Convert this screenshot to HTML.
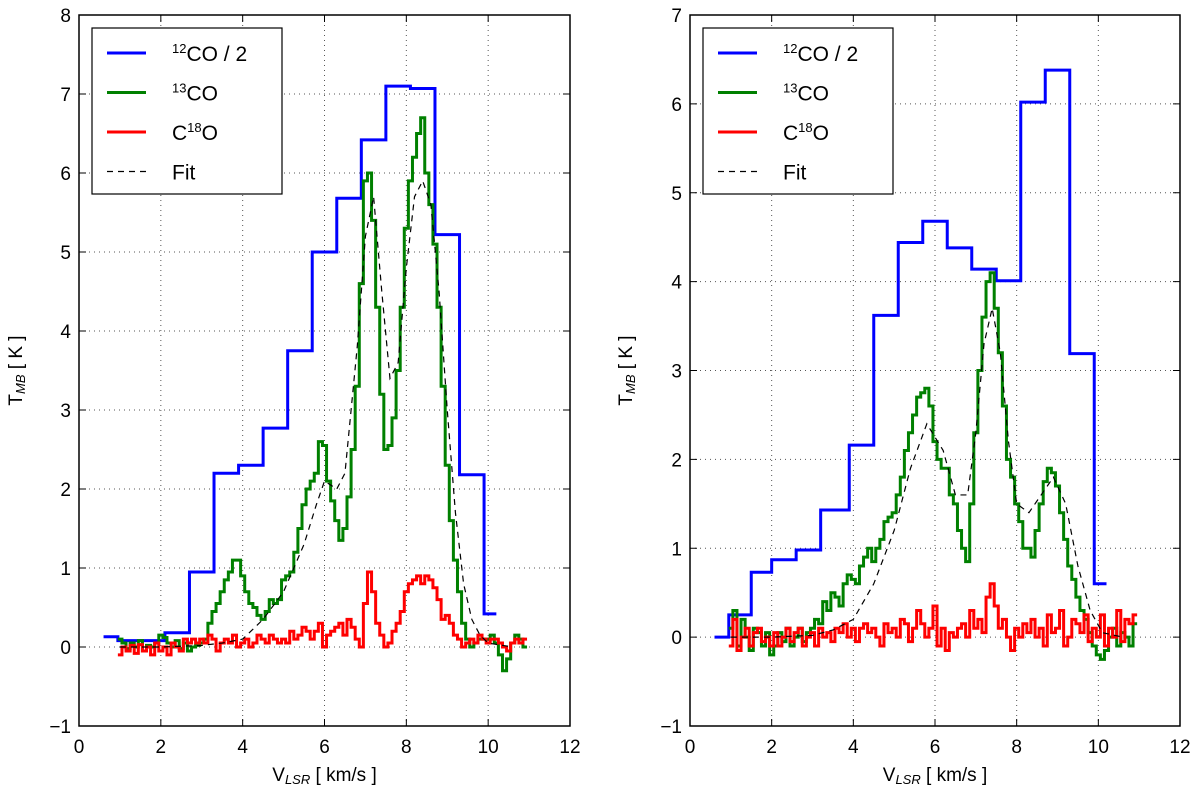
<!DOCTYPE html>
<html><head><meta charset="utf-8"><style>
body{margin:0;background:#fff;}
svg text{font-family:"Liberation Sans","DejaVu Sans",sans-serif;fill:#000;}
</style></head><body>
<svg id="chart" width="1200" height="792" xmlns="http://www.w3.org/2000/svg"></svg>
<script>
// ---- data ----
const velStart = 1.0, velStep = 0.1; // channel grid for 13CO / C18O
const blueEdgesL = [0.6,0.95,2.1,2.7,3.3,3.9,4.5,5.1,5.7,6.3,6.9,7.5,8.1,8.7,9.3,9.9,10.2];
const blueValsL = [0.13,0.08,0.18,0.95,2.2,2.3,2.77,3.75,5.0,5.68,6.42,7.1,7.07,5.22,2.18,0.42];
const greenL = [0.1,0.05,-0.02,0.05,0.0,0.08,-0.05,0.02,0.0,0.05,
0.15,0.12,0.05,0.0,0.08,-0.02,0.05,-0.05,0.0,0.02,
0.05,0.1,0.3,0.45,0.55,0.7,0.85,0.95,1.1,1.1,
0.9,0.7,0.55,0.5,0.4,0.35,0.45,0.6,0.55,0.6,
0.85,0.9,0.95,1.2,1.5,1.8,2.0,2.1,2.2,2.6,
2.55,2.1,1.85,1.6,1.35,1.5,1.9,2.5,3.3,4.6,
5.9,6.0,5.4,4.3,3.2,2.5,2.55,2.9,3.5,4.3,
5.3,5.9,6.2,6.5,6.7,6.0,5.6,5.1,4.3,3.3,
2.3,1.6,1.1,0.7,0.3,0.1,0.0,0.05,0.1,0.1,
0.1,0.15,0.05,-0.1,-0.3,-0.15,0.05,0.15,0.1,0.0];
const redL = [-0.1,0.0,-0.05,0.02,-0.08,0.03,-0.05,0.0,-0.1,0.05,
-0.05,0.0,-0.1,0.05,0.0,-0.05,0.1,0.05,0.1,0.05,
0.1,0.05,0.15,0.1,-0.05,0.05,0.1,0.05,0.15,0.0,
0.05,0.1,0.0,0.05,0.15,0.1,0.05,0.15,0.1,0.05,
0.1,0.05,0.2,0.1,0.15,0.25,0.2,0.1,0.2,0.3,
0.0,0.15,0.2,0.25,0.3,0.15,0.35,0.25,0.1,0.0,
0.55,0.95,0.7,0.3,0.15,0.0,0.05,0.2,0.3,0.45,
0.7,0.8,0.85,0.9,0.8,0.9,0.85,0.75,0.6,0.35,
0.4,0.3,0.15,0.1,0.0,0.05,0.1,0.05,0.15,0.1,
0.05,0.1,0.1,0.05,0.0,-0.05,0.05,0.1,0.05,0.1];
const fitVL = [1.0,2.0,3.0,3.5,4.0,4.5,5.0,5.5,5.8,6.0,6.3,6.5,6.8,7.0,7.2,7.4,7.6,7.8,8.0,8.2,8.4,8.6,8.8,9.0,9.2,9.4,9.6,9.8,10.0,10.6];
const fitTL = [0.0,0.0,0.02,0.05,0.1,0.35,0.7,1.3,1.8,2.1,2.0,2.2,3.8,5.2,5.7,4.5,3.4,3.6,4.8,5.7,5.9,5.6,4.5,3.0,1.7,0.8,0.35,0.15,0.05,0.0];

const blueEdgesR = [0.6,0.95,1.5,2.0,2.6,3.2,3.9,4.5,5.1,5.7,6.3,6.9,7.5,8.1,8.7,9.3,9.9,10.2];
const blueValsR = [0.0,0.25,0.73,0.87,0.98,1.43,2.16,3.62,4.44,4.68,4.38,4.14,4.01,6.02,6.38,3.19,0.6];
const greenR = [0.1,0.3,-0.1,0.2,0.0,-0.15,0.1,0.05,-0.1,0.05,
-0.2,-0.1,0.05,-0.05,0.1,-0.1,0.0,0.1,-0.05,0.05,
0.1,0.2,0.15,0.4,0.3,0.5,0.45,0.35,0.6,0.7,
0.65,0.6,0.8,0.9,1.0,0.85,1.0,1.1,1.3,1.35,
1.4,1.6,1.8,2.1,2.3,2.5,2.7,2.75,2.8,2.6,
2.2,2.0,1.9,1.9,1.6,1.5,1.2,1.0,0.85,1.5,
2.3,3.0,3.6,4.0,4.1,3.7,3.2,2.6,2.0,1.8,
1.5,1.3,1.0,1.0,0.9,1.2,1.5,1.75,1.9,1.85,
1.7,1.4,1.1,0.8,0.65,0.45,0.3,0.2,0.05,-0.1,
-0.2,-0.25,-0.15,0.0,0.1,-0.1,0.05,0.0,-0.1,0.15];
const redR = [-0.1,0.2,-0.15,0.0,0.1,-0.1,0.05,0.1,-0.05,0.0,
-0.1,0.05,-0.1,0.0,0.1,-0.05,0.05,0.1,-0.1,0.0,
0.05,-0.1,0.1,0.0,0.05,-0.05,0.1,0.05,0.15,0.0,
0.1,-0.05,0.1,0.15,0.05,0.1,0.0,-0.1,0.15,0.05,
0.1,0.0,0.2,0.15,-0.05,0.1,0.3,0.15,0.0,0.1,
0.35,-0.1,0.1,-0.15,0.05,0.0,0.1,0.15,0.0,0.3,
0.1,0.2,0.05,0.45,0.6,0.35,0.1,0.2,0.0,-0.15,
0.1,0.0,0.15,0.05,0.2,0.0,0.1,-0.1,0.25,0.05,
0.1,0.3,-0.1,0.0,0.2,0.15,0.05,0.25,-0.05,0.1,
0.0,0.25,-0.1,0.1,0.0,0.3,-0.05,0.2,0.15,0.25];
const fitVR = [1.0,2.0,3.0,3.5,4.0,4.5,5.0,5.4,5.8,6.2,6.5,6.8,7.0,7.2,7.4,7.6,7.8,8.0,8.3,8.6,8.9,9.2,9.5,9.8,10.1,10.6];
const fitTR = [0.0,0.0,0.02,0.08,0.2,0.6,1.2,1.9,2.4,2.1,1.6,1.6,2.3,3.3,3.7,3.2,2.2,1.5,1.4,1.6,1.8,1.5,0.8,0.3,0.05,0.0];

const xTicks = [0,2,4,6,8,10,12];
const yTicksL = [-1,0,1,2,3,4,5,6,7,8];
const yTicksR = [-1,0,1,2,3,4,5,6,7];

// ---- drawing ----
const svg = document.getElementById('chart');
const NS = 'http://www.w3.org/2000/svg';
function mk(tag, attrs, parent){const e=document.createElementNS(NS,tag);for(const k in attrs)e.setAttribute(k,attrs[k]);(parent||svg).appendChild(e);return e;}

function panel(opt){
  const g = mk('g',{});
  
  
  const L=opt.left,R=opt.right,T=15,B=726;
  const sx=v=>L+(v-0)/(12-0)*(R-L);
  const sy=t=>B-(t-opt.ymin)/(opt.ymax-opt.ymin)*(B-T);
  // grid
  xTicks.forEach(v=>{ if(v>0&&v<12){const l=mk('line',{x1:sx(v),x2:sx(v),y1:T,y2:B,stroke:'#555','stroke-width':1,'stroke-dasharray':'1,4'},g);
    }});
  opt.yTicks.forEach(t=>{ if(t>opt.ymin&&t<opt.ymax){const l=mk('line',{x1:L,x2:R,y1:sy(t),y2:sy(t),stroke:'#555','stroke-width':1,'stroke-dasharray':'1,4'},g);
    }});
  // series
  function stepPath(vals){let d='';vals.forEach((t,i)=>{const v0=velStart+i*velStep-velStep/2,v1=v0+velStep;d+=(i?'L':'M')+sx(v0)+','+sy(t)+'L'+sx(v1)+','+sy(t);});return d;}
  function edgePath(edges,vals){let d='';vals.forEach((t,i)=>{d+=(i?'L':'M')+sx(edges[i])+','+sy(t)+'L'+sx(edges[i+1])+','+sy(t);});return d;}
  const pb=mk('path',{d:edgePath(opt.be,opt.bv),fill:'none',stroke:'#0000ff','stroke-width':3},g);
  
  const pg=mk('path',{d:stepPath(opt.green),fill:'none',stroke:'#008000','stroke-width':3},g);
  
  const pr=mk('path',{d:stepPath(opt.red),fill:'none',stroke:'#ff0000','stroke-width':3},g);
  
  let fd='';opt.fv.forEach((v,i)=>{fd+=(i?'L':'M')+sx(v)+','+sy(opt.ft[i]);});
  const pf=mk('path',{d:fd,fill:'none',stroke:'#000','stroke-width':1.2,'stroke-dasharray':'6,5'},g);
  
  // frame
  const fr=mk('rect',{x:L,y:T,width:R-L,height:B-T,fill:'none',stroke:'#000','stroke-width':1.5},g);
  
  // ticks
  xTicks.forEach(v=>{mk('line',{x1:sx(v),x2:sx(v),y1:B,y2:B-7,stroke:'#000'},g);mk('line',{x1:sx(v),x2:sx(v),y1:T,y2:T+7,stroke:'#000'},g);
    const t=mk('text',{x:sx(v),y:B+27,'text-anchor':'middle','font-size':19},g);t.textContent=v;
    });
  opt.yTicks.forEach(v=>{mk('line',{x1:L,x2:L+7,y1:sy(v),y2:sy(v),stroke:'#000'},g);mk('line',{x1:R,x2:R-7,y1:sy(v),y2:sy(v),stroke:'#000'},g);
    const t=mk('text',{x:L-8,y:sy(v)+7,'text-anchor':'end','font-size':19},g);t.textContent=(v<0?'\u2212'+(-v):v);
    });
  // axis labels
  const xl=mk('text',{x:(L+R)/2,y:781,'text-anchor':'middle','font-size':19},g);
  xl.innerHTML='V<tspan font-style="italic" font-size="13" dy="3">LSR</tspan><tspan dy="-3">  [ km/s ]</tspan>';
  
  const yl=mk('text',{x:0,y:0,'text-anchor':'middle','font-size':19,transform:`translate(${opt.ylx},${(T+B)/2}) rotate(-90)`},g);
  yl.innerHTML='T<tspan font-style="italic" font-size="13" dy="3">MB</tspan><tspan dy="-3">  [ K ]</tspan>';
  
  // legend
  const lg=mk('g',{},g);
  
  const lx=L+13;
  mk('rect',{x:lx,y:28,width:190,height:166,fill:'#fff',stroke:'#000','stroke-width':1.2},lg);
  const items=[['#0000ff','<tspan font-size="13" dy="-8">12</tspan><tspan dy="8">CO / 2</tspan>',null],
               ['#008000','<tspan font-size="13" dy="-8">13</tspan><tspan dy="8">CO</tspan>',null],
               ['#ff0000','C<tspan font-size="13" dy="-8">18</tspan><tspan dy="8">O</tspan>',null],
               ['#000','Fit','6,5']];
  items.forEach((it,i)=>{const y=53+i*39.5;
    const ln=mk('line',{x1:lx+15,x2:lx+54,y1:y,y2:y,stroke:it[0],'stroke-width':it[2]?1.2:3},lg);
    if(it[2])ln.setAttribute('stroke-dasharray',it[2]);
    const tx=mk('text',{x:lx+80,y:y+8,'font-size':21},lg);tx.innerHTML=it[1];
    });
}
panel({name:'left-panel',left:79,right:570,ymin:-1,ymax:8,yTicks:yTicksL,ylx:22,be:blueEdgesL,bv:blueValsL,green:greenL,red:redL,fv:fitVL,ft:fitTL});
panel({name:'right-panel',left:690,right:1180,ymin:-1,ymax:7,yTicks:yTicksR,ylx:632,be:blueEdgesR,bv:blueValsR,green:greenR,red:redR,fv:fitVR,ft:fitTR});
</script>
</body></html>
